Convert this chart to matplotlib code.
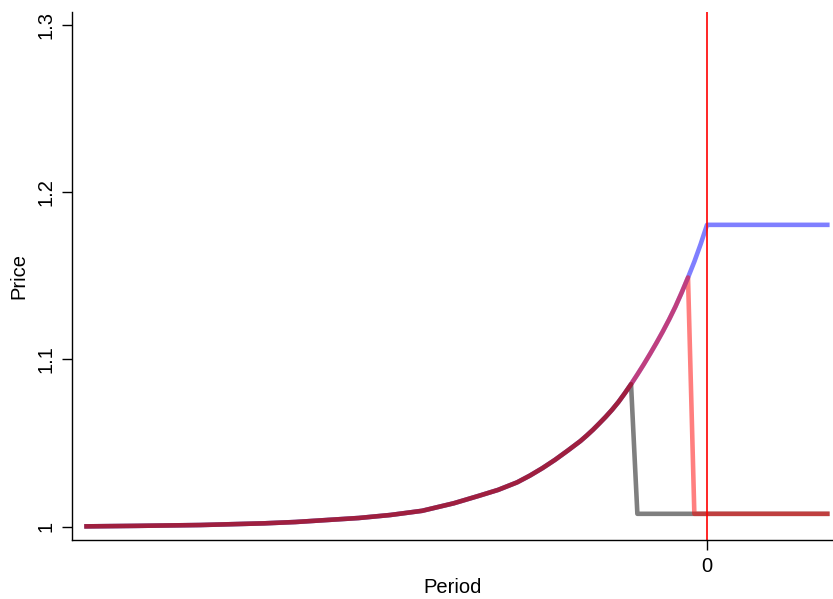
import matplotlib
matplotlib.use("Agg")
import matplotlib.pyplot as plt

plt.rcParams['font.family'] = ['Liberation Sans', 'DejaVu Sans']

# price path before the crash
curve_t = [-98, -90, -80, -70, -65, -60, -55, -50, -45, -40, -36, -33, -30,
           -28, -26, -24, -22, -20, -19, -18, -17, -16, -15, -14, -13, -12,
           -11, -10, -9, -8, -7, -6, -5, -4, -3, -2, -1, 0]
curve_p = [1.0002, 1.0005, 1.0010, 1.0020, 1.0028, 1.0040, 1.0052, 1.0070,
           1.0095, 1.0140, 1.0185, 1.0220, 1.0265, 1.0305, 1.0350, 1.0400,
           1.0455, 1.0512, 1.0545, 1.0580, 1.0618, 1.0657, 1.0699, 1.0745,
           1.0797, 1.0852, 1.0910, 1.0970, 1.1033, 1.1098, 1.1166, 1.1238,
           1.1315, 1.1400, 1.1490, 1.1585, 1.1690, 1.1805]

end_period = 19
crash_level = 1.0077
peak_level = 1.1805
early_crash = -12
late_crash = -3


def path_until(t_stop):
    ts = [t for t in curve_t if t <= t_stop]
    ps = curve_p[:len(ts)]
    return ts, ps


# no crash: price stays at the peak
blue_t, blue_p = path_until(0)
blue_t = blue_t + [end_period]
blue_p = blue_p + [peak_level]

# early crash
gray_t, gray_p = path_until(early_crash)
gray_t = gray_t + [early_crash + 1, end_period]
gray_p = gray_p + [crash_level, crash_level]

# late crash
red_t, red_p = path_until(late_crash)
red_t = red_t + [late_crash + 1, end_period]
red_p = red_p + [crash_level, crash_level]

fig = plt.figure(figsize=(8.33, 5.99), dpi=100)
ax = fig.add_axes([72 / 833, 59 / 599, 761 / 833, 528 / 599])

ax.plot(blue_t, blue_p, color='blue', alpha=0.5, lw=3.3)
ax.plot(gray_t, gray_p, color='black', alpha=0.5, lw=3.3)
ax.plot(red_t, red_p, color='red', alpha=0.5, lw=3.3)
ax.axvline(0, color='red', lw=1.2)

ax.set_xlim(-100.3, 19.9)
ax.set_ylim(0.99204, 1.30778)
ax.set_xticks([0])
ax.set_xticklabels(['0'])
ax.set_yticks([1, 1.1, 1.2, 1.3])
ax.set_yticklabels(['1', '1.1', '1.2', '1.3'], rotation=90, va='center')
ax.tick_params(axis='both', length=7, width=1, labelsize=14.5, pad=5)

for side in ['top', 'right']:
    ax.spines[side].set_visible(False)
for side in ['left', 'bottom']:
    ax.spines[side].set_linewidth(1)

ax.set_xlabel('Period', fontsize=14.5, labelpad=2)
ax.set_ylabel('Price', fontsize=14.5, labelpad=6)

fig.savefig('out.png', dpi=100)
